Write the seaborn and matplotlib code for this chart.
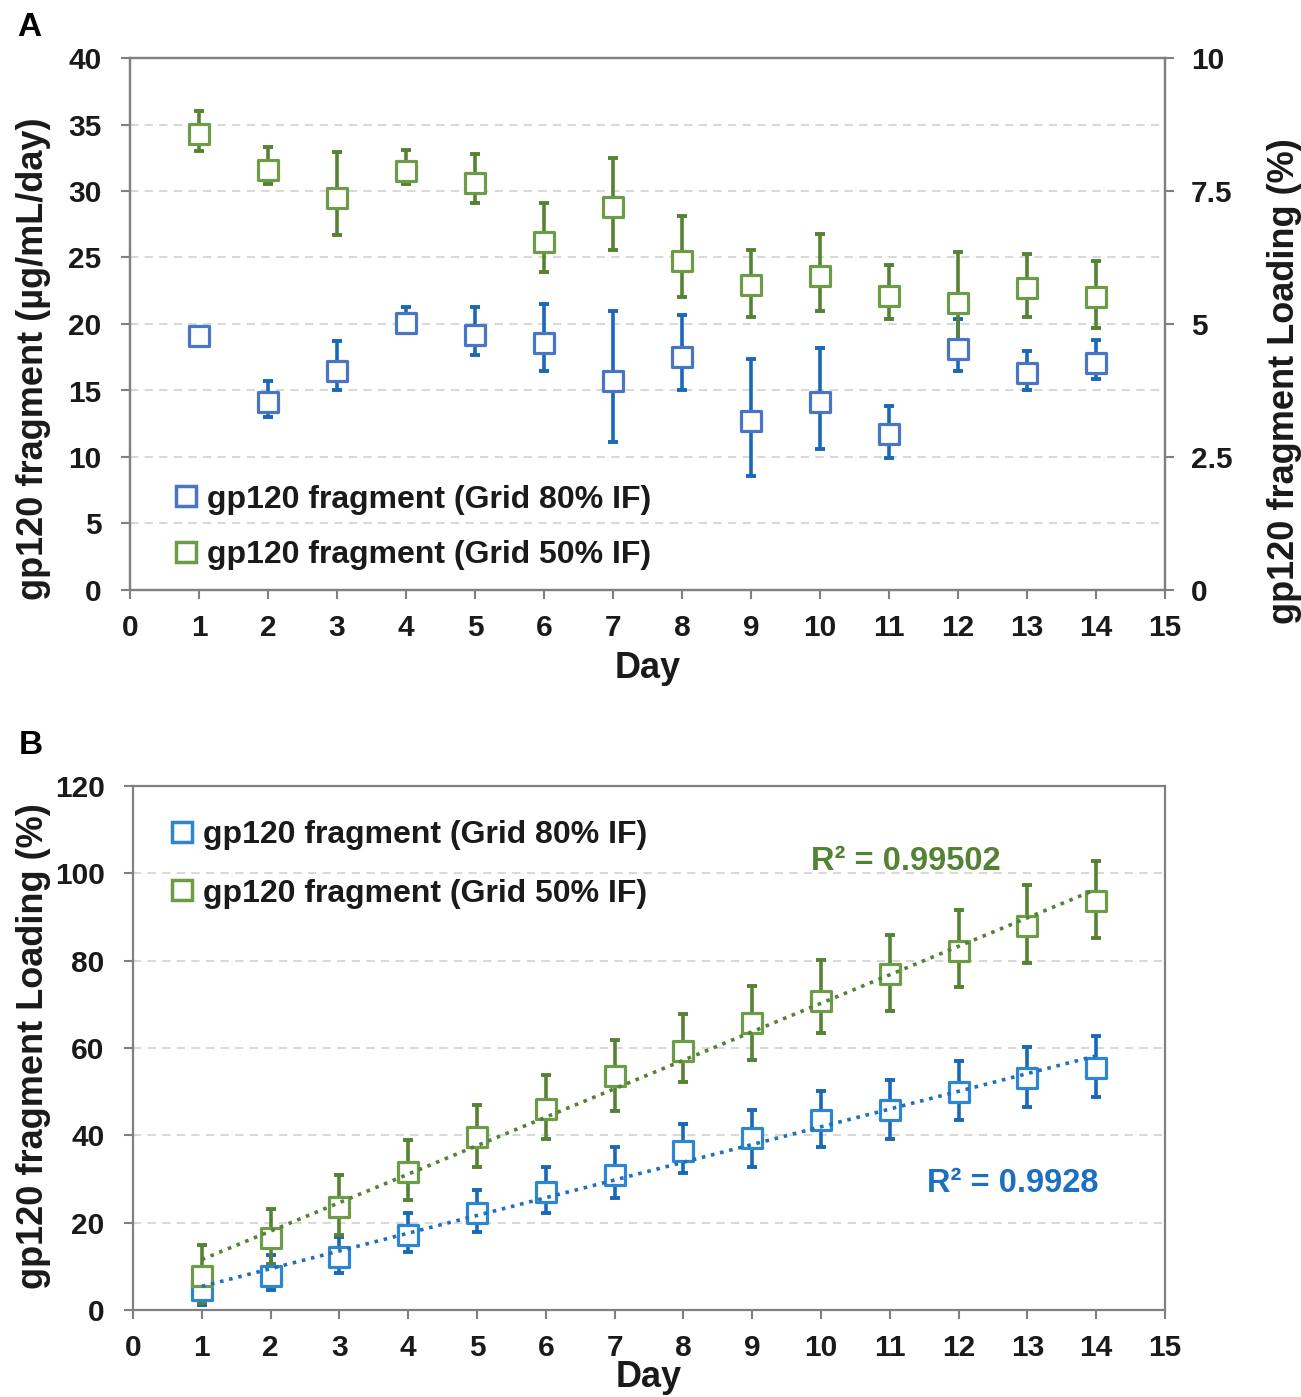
import numpy as np
import pandas as pd
import matplotlib
matplotlib.use("Agg")
import matplotlib.pyplot as plt
import seaborn as sns
from matplotlib.lines import Line2D

# ---- data ----
days = list(range(1, 15))

# Panel A: daily release (ug/mL/day)
a80 = [19.1, 14.1, 16.5, 20.1, 19.2, 18.6, 15.7, 17.5, 12.7, 14.1, 11.7, 18.1, 16.3, 17.1]
a80_hi = [19.3, 15.7, 18.7, 21.3, 21.3, 21.5, 21.0, 20.7, 17.4, 18.2, 13.8, 20.4, 18.0, 18.8]
a80_lo = [18.9, 13.0, 15.0, 19.4, 17.7, 16.5, 11.1, 15.0, 8.6, 10.6, 9.9, 16.5, 15.0, 15.9]

a50 = [34.3, 31.6, 29.5, 31.5, 30.6, 26.2, 28.8, 24.7, 22.9, 23.6, 22.1, 21.6, 22.7, 22.0]
a50_hi = [36.0, 33.3, 32.9, 33.1, 32.8, 29.1, 32.5, 28.1, 25.6, 26.8, 24.4, 25.4, 25.3, 24.7]
a50_lo = [33.0, 30.5, 26.7, 30.5, 29.1, 23.9, 25.6, 22.0, 20.5, 21.0, 20.4, 18.8, 20.5, 19.7]

# Panel B: cumulative loading (%)
b80 = [4.6, 7.8, 12.1, 17.2, 22.2, 27.0, 30.9, 36.4, 39.4, 43.5, 45.8, 49.9, 53.1, 55.4]
b80_hi = [8.0, 12.6, 16.7, 22.2, 27.5, 32.7, 37.3, 42.6, 45.8, 50.1, 52.7, 57.0, 60.2, 62.7]
b80_lo = [1.1, 4.6, 8.5, 13.3, 17.9, 22.2, 25.6, 31.4, 32.7, 37.3, 39.2, 43.5, 46.5, 48.8]

b50 = [7.8, 16.5, 23.6, 31.6, 39.6, 46.0, 53.6, 59.3, 65.7, 70.8, 76.9, 82.2, 87.9, 93.7]
b50_hi = [14.9, 23.1, 30.9, 38.9, 47.0, 53.8, 61.8, 67.8, 74.2, 80.1, 85.9, 91.6, 97.3, 102.9]
b50_lo = [1.5, 10.5, 17.2, 25.2, 32.7, 39.2, 45.6, 52.2, 57.2, 63.4, 68.5, 74.0, 79.5, 85.2]

labels = ["gp120 fragment (Grid 80% IF)", "gp120 fragment (Grid 50% IF)"]
r2_50 = "R² = 0.99502"
r2_80 = "R² = 0.9928"

# colours
blue_a_edge, blue_err = "#4A74C4", "#1A68B8"
blue_b_edge = "#2E86D2"
green_edge, green_err = "#6E9B48", "#558233"
blue_line, green_line = "#1F6FBF", "#548235"
spine_col = "#808080"
txt = "#1a1a1a"

sns.set_theme(style="white")
plt.rcParams["font.family"] = ["Liberation Sans", "DejaVu Sans"]
plt.rcParams["font.weight"] = "bold"

W, H = 1301, 1397
fig = plt.figure(figsize=(W / 100, H / 100), dpi=100)

ax_a = fig.add_axes([130 / W, 1 - 590 / H, (1165 - 130) / W, (590 - 58) / H])
ax_b = fig.add_axes([133 / W, 1 - 1310 / H, (1165 - 133) / W, (1310 - 786) / H])


def draw_series(ax, y, lo, hi, edge, err):
    y = np.array(y)
    yerr = [y - np.array(lo), np.array(hi) - y]
    ax.errorbar(days, y, yerr=yerr, fmt="none", ecolor=err, elinewidth=2.6,
                capsize=3.6, capthick=2.8, zorder=2)
    df = pd.DataFrame({"day": days, "val": y})
    sns.scatterplot(data=df, x="day", y="val", ax=ax, marker="s", s=200,
                    color="white", edgecolor=edge, linewidth=2.3, zorder=3)


def style_axes(ax, ymax, ystep):
    ax.set_xlim(0, 15)
    ax.set_ylim(0, ymax)
    ax.set_xticks(range(0, 16))
    ax.set_yticks(np.arange(0, ymax + 0.1, ystep))
    for s in ax.spines.values():
        s.set_visible(True)
        s.set_color(spine_col)
        s.set_linewidth(1.6)
    ax.tick_params(axis="both", which="both", direction="out", length=6.5, width=1.5,
                   color=spine_col, labelsize=21.5, labelcolor=txt)
    ax.tick_params(axis="x", pad=11, bottom=True)
    ax.tick_params(axis="y", pad=14, left=True)
    for t in ax.get_xticklabels() + ax.get_yticklabels():
        t.set_fontweight("bold")
    for v in np.arange(ystep, ymax, ystep):
        ax.axhline(v, color="#D9D9D9", lw=1.5, ls=(0, (4, 3)), zorder=0)


# ---------------- Panel A ----------------
style_axes(ax_a, 40, 5)
draw_series(ax_a, a80, a80_lo, a80_hi, blue_a_edge, blue_err)
draw_series(ax_a, a50, a50_lo, a50_hi, green_edge, green_err)
ax_a.set_xlabel("Day", fontsize=26, fontweight="bold", color=txt)
ax_a.set_ylabel("gp120 fragment (µg/mL/day)", fontsize=26, fontweight="bold", color=txt)
ax_a.xaxis.set_label_coords(0.5, -0.115)
ax_a.yaxis.set_label_coords(-0.076, 0.434)

ax_r = ax_a.twinx()
ax_r.set_ylim(0, 10)
ax_r.set_yticks([0, 2.5, 5, 7.5, 10])
ax_r.set_yticklabels(["0", "2.5", "5", "7.5", "10"])
ax_r.grid(False)
for s in ax_r.spines.values():
    s.set_color(spine_col)
    s.set_linewidth(1.6)
ax_r.tick_params(axis="y", direction="out", length=6.5, width=1.5, color=spine_col,
                 labelsize=21.5, labelcolor=txt, pad=12, right=True)
for t in ax_r.get_yticklabels():
    t.set_fontweight("bold")
ax_r.set_ylabel("gp120 fragment Loading (%)", fontsize=26, fontweight="bold", color=txt)
ax_r.yaxis.set_label_coords(1.099, 0.393)

hA = [Line2D([], [], marker="s", ls="none", mfc="white", mec=blue_a_edge, ms=14, mew=2.5),
      Line2D([], [], marker="s", ls="none", mfc="white", mec=green_edge, ms=14, mew=2.5)]
ax_a.legend(hA, labels, loc="upper left", bbox_to_anchor=(0.027, 0.228), frameon=False,
            borderpad=0, handlelength=0.75, handletextpad=0.3, labelspacing=0.8,
            prop={"size": 23, "weight": "bold"}, labelcolor=txt)

fig.text(17 / W, 1 - 28 / H, "A", fontsize=24, fontweight="bold", va="center", color="black")

# ---------------- Panel B ----------------
style_axes(ax_b, 120, 20)
draw_series(ax_b, b80, b80_lo, b80_hi, blue_b_edge, blue_err)
draw_series(ax_b, b50, b50_lo, b50_hi, green_edge, green_err)
df80 = pd.DataFrame({"day": days, "val": b80})
df50 = pd.DataFrame({"day": days, "val": b50})
sns.regplot(data=df80, x="day", y="val", ax=ax_b, scatter=False, ci=None, truncate=True,
            line_kws=dict(color=blue_line, ls=(0, (1, 1.6)), lw=2.6, zorder=4))
sns.regplot(data=df50, x="day", y="val", ax=ax_b, scatter=False, ci=None, truncate=True,
            line_kws=dict(color=green_line, ls=(0, (1, 1.6)), lw=2.6, zorder=4))
ax_b.set_xlim(0, 15)
ax_b.set_ylim(0, 120)
ax_b.set_xlabel("Day", fontsize=26, fontweight="bold", color=txt)
ax_b.set_ylabel("gp120 fragment Loading (%)", fontsize=26, fontweight="bold", color=txt)
ax_b.xaxis.set_label_coords(0.5, -0.095)
ax_b.yaxis.set_label_coords(-0.079, 0.504)

ax_b.text(11.24, 102.6, r2_50, color=green_line, fontsize=23.5, fontweight="bold",
          ha="center", va="center")
ax_b.text(12.79, 28.9, r2_80, color=blue_line, fontsize=23.5, fontweight="bold",
          ha="center", va="center")

hB = [Line2D([], [], marker="s", ls="none", mfc="white", mec=blue_b_edge, ms=14, mew=2.5),
      Line2D([], [], marker="s", ls="none", mfc="white", mec=green_edge, ms=14, mew=2.5)]
ax_b.legend(hB, labels, loc="upper left", bbox_to_anchor=(0.02, 0.966), frameon=False,
            borderpad=0, handlelength=0.75, handletextpad=0.3, labelspacing=0.9,
            prop={"size": 23, "weight": "bold"}, labelcolor=txt)

fig.text(19 / W, 1 - 745 / H, "B", fontsize=24, fontweight="bold", va="center", color="black")

fig.savefig("out.png", dpi=100)
